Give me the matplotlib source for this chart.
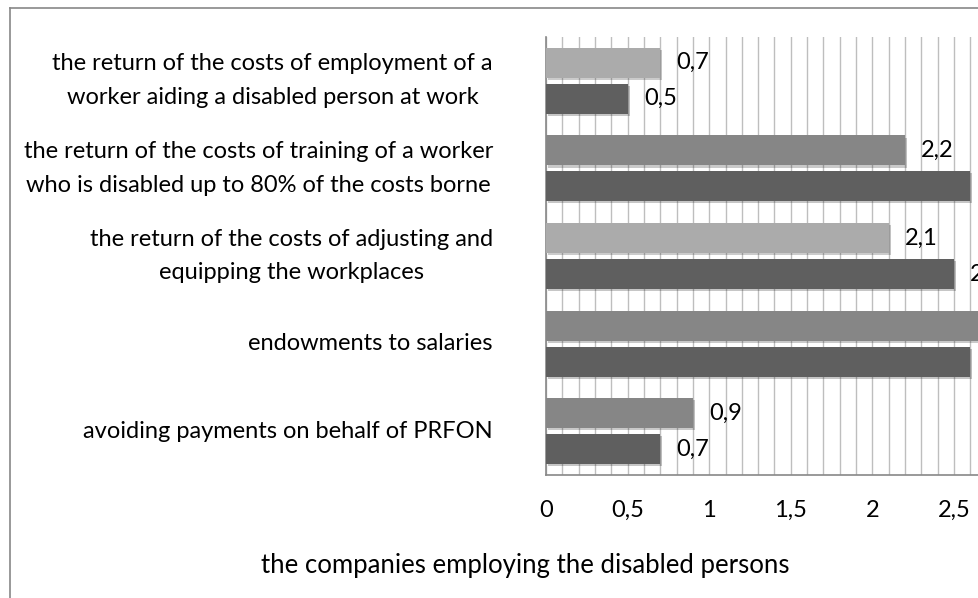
import numpy as np
import matplotlib.pyplot as plt
import matplotlib.patheffects as pe
from matplotlib.transforms import ScaledTranslation

plt.rcParams['font.family'] = ['Lato', 'DejaVu Sans']

# categories from top to bottom
categories = [
    'the return of the costs of employment of a\nworker aiding a disabled person at work',
    'the return of the costs of training of a worker\nwho is disabled up to 80% of the costs borne',
    'the return of the costs of adjusting and\nequipping the workplaces',
    'endowments to salaries',
    'avoiding payments on behalf of PRFON',
]
upper_vals = [0.7, 2.2, 2.1, 2.8, 0.9]
lower_vals = [0.5, 2.6, 2.5, 2.6, 0.7]
upper_colors = ['#ABABAB', '#868686', '#ABABAB', '#868686', '#868686']
lower_color = '#5F5F5F'
xticks = [0, 0.5, 1, 1.5, 2, 2.5]
xtick_labels = ['0', '0,5', '1', '1,5', '2', '2,5']

FS = 17

fig = plt.figure(figsize=(9.79, 5.98), dpi=100)
# axes run past the right edge, the reference is cropped there
ax = fig.add_axes([546 / 979, 1 - 475 / 598, 489.6 / 979, 438 / 598])

y = np.arange(len(categories))
off = 0.205
h = 0.342
shadow = [pe.SimplePatchShadow(offset=(1.5, -1.5), alpha=0.25), pe.Normal()]

b1 = ax.barh(y - off, upper_vals, height=h, color=upper_colors, zorder=3)
b2 = ax.barh(y + off, lower_vals, height=h, color=lower_color, zorder=3)
for bars in (b1, b2):
    for p in bars:
        p.set_path_effects(shadow)

for vals, ys in ((upper_vals, y - off), (lower_vals, y + off)):
    for v, yy in zip(vals, ys):
        ax.text(v + 0.1, yy, f'{v:.1f}'.replace('.', ','), va='center', ha='left',
                fontsize=FS, color='black', zorder=4)

ax.set_ylim(len(categories) - 0.5, -0.5)
ax.set_xlim(0, 3)
ax.set_yticks(y)
ax.set_yticklabels([])
ax.tick_params(axis='y', length=0)

# category labels, block right-aligned, lines centred
tr = ax.get_yaxis_transform() + ScaledTranslation(-53 / 100, 0, fig.dpi_scale_trans)
for yy, cat in zip(y, categories):
    ax.text(0, yy, cat, transform=tr, ha='right', va='center', fontsize=FS,
            multialignment='center', linespacing=1.75, clip_on=False)

ax.set_xticks(xticks)
ax.set_xticklabels(xtick_labels, fontsize=FS)
ax.tick_params(axis='x', length=0, pad=18)

ax.set_xticks(np.arange(0, 3.01, 0.1), minor=True)
ax.tick_params(axis='x', which='minor', length=0)
ax.grid(True, axis='x', which='both', color='#BEBEBE', linewidth=1, zorder=0)
ax.set_axisbelow(True)

for s in ('top', 'right'):
    ax.spines[s].set_visible(False)
for s in ('left', 'bottom'):
    ax.spines[s].set_color('#888888')
    ax.spines[s].set_linewidth(1.2)

fig.text(525 / 979, 1 - 566 / 598, 'the companies employing the disabled persons',
         ha='center', va='center', fontsize=18.5)

# outer chart border (right and bottom edges are cropped away)
fig.add_artist(plt.Line2D([10 / 979, 10 / 979], [0, 1 - 8 / 598],
                          transform=fig.transFigure, color='#888888', linewidth=1.2))
fig.add_artist(plt.Line2D([10 / 979, 1], [1 - 8 / 598, 1 - 8 / 598],
                          transform=fig.transFigure, color='#888888', linewidth=1.2))

plt.savefig('out.png', dpi=100)
